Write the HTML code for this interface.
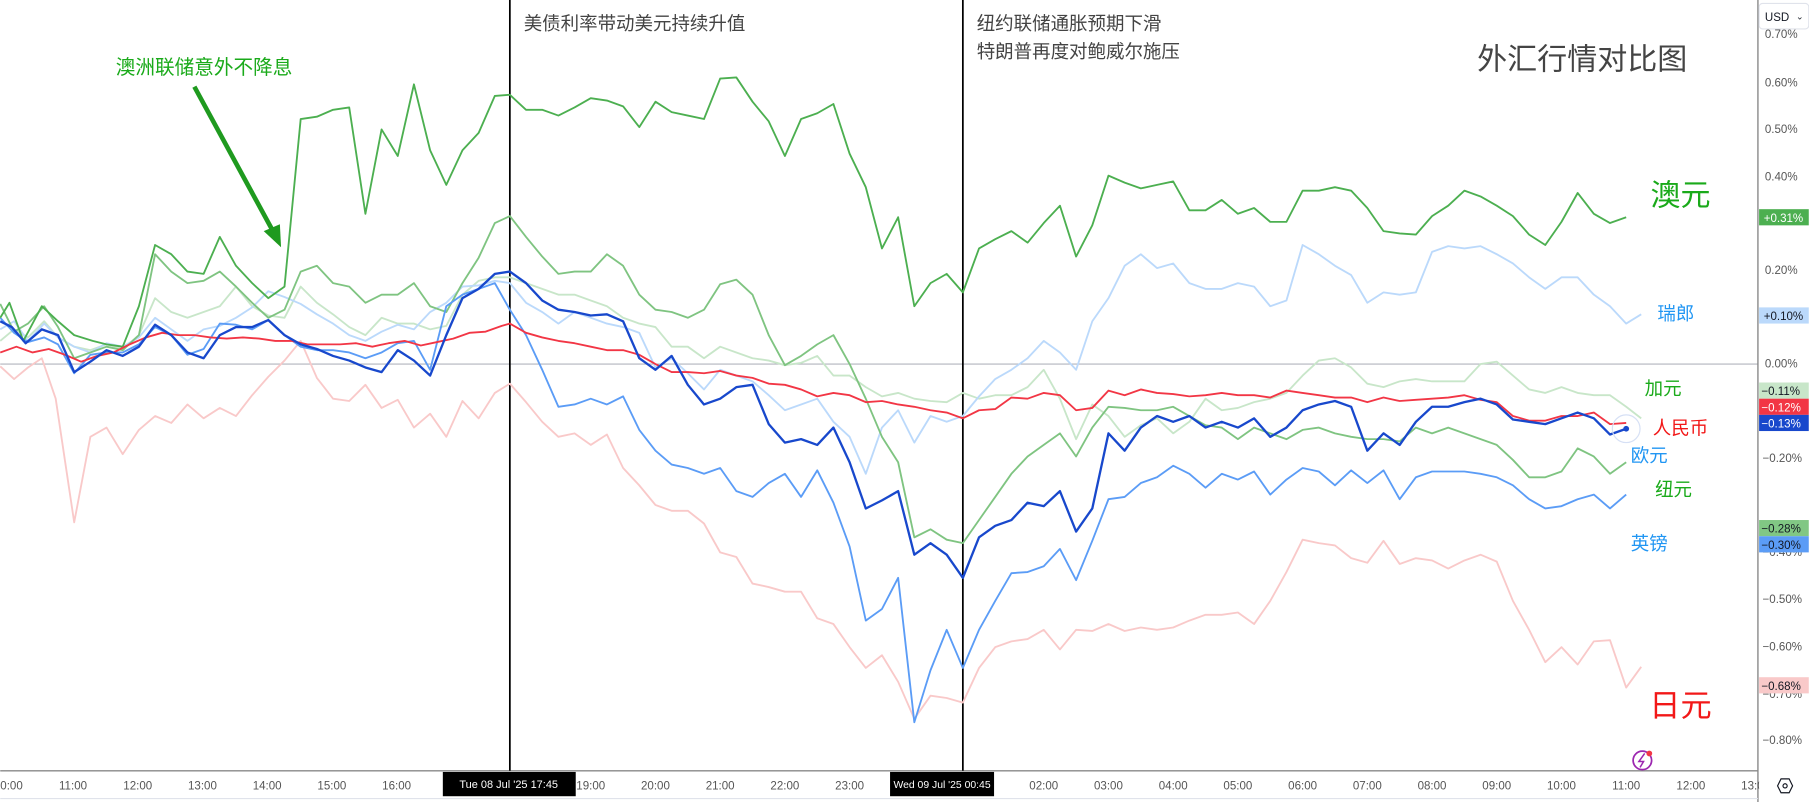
<!DOCTYPE html>
<html><head><meta charset="utf-8"><style>
html,body{margin:0;padding:0;background:#fff;}
svg{display:block;font-family:"Liberation Sans","Noto Sans CJK SC",sans-serif;}
</style></head><body>
<svg width="1809" height="802" viewBox="0 0 1565 694" xmlns="http://www.w3.org/2000/svg">
<rect width="1565" height="694" fill="#fff"/>
<line x1="0" y1="315" x2="1521" y2="315" stroke="#b2b5be" stroke-width="1"/>
<line x1="0" y1="667" x2="1521" y2="667" stroke="#888" stroke-width="1.2"/>
<line x1="1521" y1="0" x2="1521" y2="694" stroke="#888" stroke-width="1.2"/>
<line x1="0" y1="691" x2="1521" y2="691" stroke="#e0e3eb" stroke-width="1"/>
<line x1="441" y1="0" x2="441" y2="667" stroke="#000" stroke-width="1.5"/>
<line x1="833" y1="0" x2="833" y2="667" stroke="#000" stroke-width="1.5"/>
<g fill="none" stroke-linejoin="round" stroke-width="1.6">
<polyline stroke="#f9c9c9" points="0,317 12,328 24,318 36,310 48,345 64,452 78,378 92,370 106,393 120,372 134,360 148,366 162,350 176,362 190,353 204,360 218,342 232,326 246,312 260,295 274,327 288,345 302,347 316,333 330,353 344,346 358,370 372,358 386,378 400,347 414,362 428,340 441,332 455,348 469,365 483,378 497,375 511,385 525,376 539,405 553,420 567,437 581,442 595,442 609,453 623,478 637,482 651,505 665,508 679,512 693,512 707,535 721,540 735,560 749,578 763,567 777,590 791,622 805,602 819,604 833,608 847,578 861,560 875,555 889,553 903,545 917,562 931,545 945,546 959,540 973,546 987,543 1001,545 1015,543 1029,537 1043,532 1057,532 1071,530 1085,540 1099,520 1113,495 1127,467 1141,470 1155,472 1169,483 1183,487 1197,468 1211,488 1225,483 1239,485 1253,492 1267,485 1281,480 1295,486 1309,520 1323,545 1337,573 1351,560 1365,575 1379,555 1393,554 1407,595 1420,577"/>
<polyline stroke="#c8e6c9" points="0,295 12,285 24,292 38,278 50,292 64,300 78,303 92,298 106,302 120,290 134,258 148,270 162,275 176,270 190,265 204,248 218,265 232,273 246,275 260,248 274,262 288,272 302,283 316,290 330,275 344,280 358,280 372,285 386,282 400,255 414,243 428,240 441,240 455,245 469,250 483,255 497,255 511,260 525,265 539,275 553,280 567,283 581,300 595,300 609,310 623,300 637,305 651,310 665,312 679,316 693,314 707,308 721,325 735,325 749,335 763,343 777,340 791,345 805,347 819,348 833,340 847,345 861,342 875,342 889,335 903,320 917,345 931,380 945,350 959,360 973,378 987,368 1001,362 1015,375 1029,365 1043,345 1057,355 1071,353 1085,348 1099,345 1113,340 1127,325 1141,312 1155,310 1169,318 1183,332 1197,335 1211,330 1225,328 1239,330 1253,330 1267,330 1281,315 1295,313 1309,325 1323,337 1337,340 1351,335 1365,340 1379,342 1393,342 1407,352 1420,362"/>
<polyline stroke="#bbd9fb" points="0,285 12,278 24,295 38,280 50,292 64,300 78,305 92,297 106,300 120,292 134,275 148,285 162,295 176,285 190,282 204,275 218,266 232,252 246,257 260,263 274,272 288,280 302,290 316,295 330,287 344,281 358,285 372,270 386,262 400,248 414,247 428,243 441,245 455,262 469,270 483,280 497,270 511,275 525,280 539,283 553,288 567,318 581,310 595,323 609,337 623,320 637,325 651,330 665,342 679,355 693,350 707,345 721,365 735,378 749,410 763,370 777,355 791,383 805,360 819,365 833,360 847,343 861,328 875,320 889,310 903,295 917,305 931,320 945,278 959,258 973,230 987,220 1001,232 1015,228 1029,245 1043,250 1057,250 1071,245 1085,248 1099,265 1113,260 1127,212 1141,220 1155,230 1169,238 1183,262 1197,253 1211,255 1225,253 1239,218 1253,213 1267,215 1281,213 1295,220 1309,228 1323,240 1337,250 1351,240 1365,240 1379,255 1393,265 1407,280 1420,272"/>
<polyline stroke="#7fc481" points="0,263 12,287 24,280 38,265 50,283 64,310 78,305 92,300 106,303 120,290 134,220 148,235 162,245 176,243 190,235 204,248 218,262 232,275 246,268 260,235 274,230 288,245 302,248 316,262 330,255 344,255 358,245 372,265 386,270 400,245 414,223 428,193 441,187 455,205 469,222 483,237 497,235 511,235 525,220 539,230 553,255 567,268 581,270 595,275 609,268 623,246 637,242 651,255 665,290 679,316 693,308 707,298 721,290 735,315 749,345 763,378 777,400 791,465 805,458 819,467 833,470 847,450 861,430 875,410 889,395 903,385 917,375 931,395 945,370 959,352 973,353 987,355 1001,355 1015,352 1029,360 1043,368 1057,370 1071,380 1085,370 1099,375 1113,380 1127,372 1141,370 1155,375 1169,378 1183,380 1197,380 1211,382 1225,370 1239,375 1253,370 1267,375 1281,380 1295,385 1309,398 1323,413 1337,413 1351,408 1365,388 1379,395 1393,410 1407,400"/>
<polyline stroke="#5b9cf6" points="0,275 12,288 24,296 38,292 50,298 64,323 78,307 92,305 106,305 120,298 134,283 148,290 162,307 176,302 190,280 204,281 218,285 232,277 246,290 260,300 274,303 288,303 302,305 316,310 330,305 344,297 358,295 372,320 386,265 400,255 414,250 428,245 441,268 455,290 469,320 483,352 497,350 511,345 525,350 539,343 553,372 567,390 581,402 595,405 609,410 623,405 637,425 651,430 665,418 679,410 693,430 707,407 721,435 735,473 749,537 763,527 777,500 791,625 805,580 819,545 833,578 847,545 861,520 875,496 889,495 903,490 917,475 931,502 945,468 959,432 973,430 987,418 1001,413 1015,403 1029,410 1043,422 1057,410 1071,415 1085,408 1099,428 1113,415 1127,405 1141,408 1155,420 1169,407 1183,418 1197,407 1211,432 1225,413 1239,408 1253,408 1267,408 1281,410 1295,413 1309,420 1323,432 1337,440 1351,438 1365,432 1379,428 1393,440 1407,428"/>
<polyline stroke="#4caf50" points="0,275 8,262 20,295 36,265 50,278 64,290 80,295 92,298 106,300 120,265 134,212 148,220 162,235 176,237 190,205 204,230 218,245 232,258 246,248 260,103 274,101 288,95 302,93 316,185 330,112 344,135 358,73 372,130 386,160 400,130 414,115 428,83 441,82 455,95 469,95 483,100 497,93 511,85 525,87 539,92 553,110 567,88 581,97 595,100 609,103 623,68 637,67 651,88 665,105 679,135 693,103 707,98 721,90 735,133 749,162 763,215 777,188 791,265 805,245 819,237 833,253 847,215 861,207 875,200 889,210 903,193 917,178 931,222 945,195 959,152 973,158 987,163 1001,160 1015,157 1029,182 1043,182 1057,173 1071,185 1085,180 1099,192 1113,192 1127,165 1141,165 1155,162 1169,165 1183,180 1197,200 1211,202 1225,203 1239,187 1253,178 1267,165 1281,170 1295,178 1309,187 1323,203 1337,212 1351,192 1365,167 1379,185 1393,193 1407,188"/>
<polyline stroke="#f23645" points="0,305 14,300 28,305 42,302 56,307 70,313 84,308 98,305 112,298 126,292 140,288 154,290 168,290 182,292 196,293 210,292 224,293 238,295 252,295 266,298 280,298 294,298 308,297 322,300 336,297 350,295 364,299 378,296 392,293 406,288 420,287 434,282 441,280 455,288 469,292 483,295 497,297 511,300 525,303 539,303 553,307 567,315 581,322 595,322 609,323 623,321 637,325 651,327 665,332 679,333 693,337 707,343 721,340 735,342 749,348 763,347 777,350 791,352 805,355 819,357 833,362 847,355 861,354 875,344 889,345 903,340 917,342 931,355 945,353 959,338 973,342 987,337 1001,340 1015,341 1029,343 1043,342 1057,340 1071,342 1085,342 1099,344 1113,338 1127,340 1141,342 1155,344 1169,344 1183,348 1197,344 1211,347 1225,346 1239,345 1253,344 1267,342 1281,346 1295,348 1309,360 1323,364 1337,364 1351,360 1365,360 1379,357 1393,367 1407,366"/>
<polyline stroke="#1848cc" stroke-width="2" points="0,278 10,283 22,297 36,285 50,290 64,322 78,313 92,303 106,308 120,300 134,281 148,290 162,305 176,310 190,290 204,283 218,283 232,277 246,290 260,298 274,302 288,308 302,312 316,318 330,322 344,303 358,312 372,325 386,290 400,258 414,250 428,237 441,235 455,245 469,260 483,268 497,270 511,273 525,272 539,278 553,310 567,320 581,308 595,333 609,350 623,345 637,335 651,333 665,367 679,383 693,380 707,385 721,370 735,400 749,440 763,433 777,425 791,480 805,470 819,480 833,500 847,465 861,455 875,450 889,435 903,438 917,425 931,460 945,440 959,375 973,390 987,370 1001,360 1015,365 1029,360 1043,370 1057,365 1071,370 1085,362 1099,378 1113,370 1127,355 1141,350 1155,347 1169,352 1183,390 1197,375 1211,385 1225,365 1239,352 1253,352 1267,348 1281,345 1295,350 1309,363 1323,365 1337,367 1351,362 1365,357 1379,362 1393,376 1407,371"/>
</g>
<circle cx="1407" cy="371" r="12" fill="none" stroke="#d6e0f5" stroke-width="1"/>
<circle cx="1407" cy="371" r="2.5" fill="#1848cc"/>
<text x="100" y="64" font-size="17" fill="#1aaa1a">澳洲联储意外不降息</text>
<line x1="168" y1="75" x2="236" y2="200" stroke="#1f9a1f" stroke-width="4"/>
<polygon points="243,214 228,200 242,194" fill="#1f9a1f"/>
<text x="453" y="26" font-size="16" fill="#444">美债利率带动美元持续升值</text>
<text x="845" y="26" font-size="16" fill="#444">纽约联储通胀预期下滑</text>
<text x="845" y="50" font-size="16" fill="#444">特朗普再度对鲍威尔施压</text>
<text x="1278" y="60" font-size="26" fill="#444">外汇行情对比图</text>
<text x="1428" y="178" font-size="26" fill="#1aaa1a">澳元</text>
<text x="1434" y="277" font-size="16" fill="#2196f3">瑞郎</text>
<text x="1423" y="342" font-size="16" fill="#1aaa1a">加元</text>
<text x="1430" y="376" font-size="16" fill="#f21818">人民币</text>
<text x="1411" y="400" font-size="16" fill="#2196f3">欧元</text>
<text x="1432" y="429" font-size="16" fill="#1aaa1a">纽元</text>
<text x="1411" y="476" font-size="16" fill="#2196f3">英镑</text>
<text x="1427" y="620" font-size="27" fill="#f21818">日元</text>
<circle cx="1421" cy="658" r="8" fill="none" stroke="#9c27b0" stroke-width="1.5"/>
<path d="M1423,652 L1418,659 L1422,659 L1419,664" fill="none" stroke="#9c27b0" stroke-width="1.3"/>
<circle cx="1427" cy="652" r="2.5" fill="#f23645"/>
<g font-size="10" fill="#555" text-anchor="start">
<text x="1527" y="33">0.70%</text>
<text x="1527" y="75">0.60%</text>
<text x="1527" y="115">0.50%</text>
<text x="1527" y="156">0.40%</text>
<text x="1527" y="237">0.20%</text>
<text x="1527" y="318">0.00%</text>
<text x="1525" y="400">−0.20%</text>
<text x="1525" y="481">−0.40%</text>
<text x="1525" y="522">−0.50%</text>
<text x="1525" y="563">−0.60%</text>
<text x="1525" y="604">−0.70%</text>
<text x="1525" y="644">−0.80%</text>
</g>
<rect x="1522" y="3" width="43" height="22" fill="#fff" stroke="#e0e3eb" rx="3"/>
<text x="1527" y="18" font-size="10" fill="#131722">USD</text>
<text x="1554" y="17" font-size="8" fill="#131722">⌄</text>
<g font-size="10">
<rect x="1522" y="181" width="43" height="14" fill="#4caf50"/><text x="1526" y="192" fill="#fff">+0.31%</text>
<rect x="1522" y="266" width="43" height="14" fill="#bbd9fb"/><text x="1526" y="277" fill="#131722">+0.10%</text>
<rect x="1522" y="331" width="43" height="14" fill="#c8e6c9"/><text x="1524" y="342" fill="#131722">−0.11%</text>
<rect x="1522" y="345" width="43" height="14" fill="#f23645"/><text x="1524" y="356" fill="#fff">−0.12%</text>
<rect x="1522" y="359" width="43" height="14" fill="#1848cc"/><text x="1524" y="370" fill="#fff">−0.13%</text>
<rect x="1522" y="450" width="43" height="14" fill="#81c784"/><text x="1524" y="461" fill="#131722">−0.28%</text>
<rect x="1522" y="464" width="43" height="14" fill="#5b9cf6"/><text x="1524" y="475" fill="#131722">−0.30%</text>
<rect x="1522" y="586" width="43" height="14" fill="#f9c9c9"/><text x="1524" y="597" fill="#131722">−0.68%</text>
</g>
<g font-size="10" fill="#555" text-anchor="middle">
<text x="7" y="683">10:00</text>
<text x="63" y="683">11:00</text>
<text x="119" y="683">12:00</text>
<text x="175" y="683">13:00</text>
<text x="231" y="683">14:00</text>
<text x="287" y="683">15:00</text>
<text x="343" y="683">16:00</text>
<text x="511" y="683">19:00</text>
<text x="567" y="683">20:00</text>
<text x="623" y="683">21:00</text>
<text x="679" y="683">22:00</text>
<text x="735" y="683">23:00</text>
<text x="903" y="683">02:00</text>
<text x="959" y="683">03:00</text>
<text x="1015" y="683">04:00</text>
<text x="1071" y="683">05:00</text>
<text x="1127" y="683">06:00</text>
<text x="1183" y="683">07:00</text>
<text x="1239" y="683">08:00</text>
<text x="1295" y="683">09:00</text>
<text x="1351" y="683">10:00</text>
<text x="1407" y="683">11:00</text>
<text x="1463" y="683">12:00</text>
<text x="1519" y="683">13:00</text>
</g>
<rect x="1522" y="668" width="43" height="24" fill="#fff"/>
<polygon points="1538,680 1541,674 1548,674 1551,680 1548,686 1541,686" fill="none" stroke="#131722" stroke-width="1"/>
<circle cx="1544.5" cy="680" r="1.8" fill="none" stroke="#131722" stroke-width="1"/>
<rect x="383" y="668" width="115" height="21" fill="#000"/>
<text x="440" y="682" font-size="9.5" fill="#fff" text-anchor="middle">Tue 08 Jul '25  17:45</text>
<rect x="770" y="668" width="90" height="21" fill="#000"/>
<text x="815" y="682" font-size="9" fill="#fff" text-anchor="middle">Wed 09 Jul '25  00:45</text>
</svg>
</body></html>
